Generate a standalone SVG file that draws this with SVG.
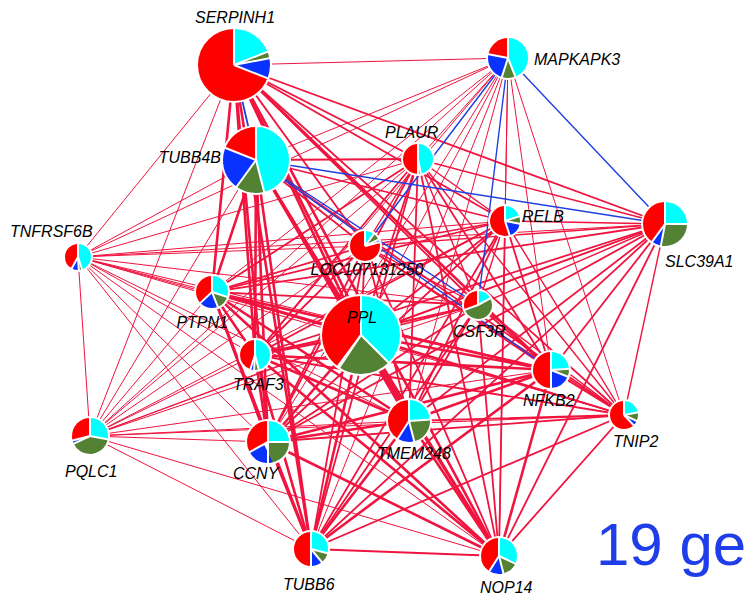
<svg xmlns="http://www.w3.org/2000/svg" width="750" height="606" viewBox="0 0 750 606">
<style>
.e line{stroke:#f0143f;stroke-linecap:round}
.e line.bl{stroke:#1f3fe0}
.w3{stroke-width:2.6}.w2{stroke-width:1.8}.w15{stroke-width:1.4}.w1{stroke-width:1}
.bg{fill:#fff}
.s{fill:none}
.c{stroke:#00ffff}.g{stroke:#548235}.b{stroke:#0a32ff}.r{stroke:#ff0000}
.sep{stroke:#fff;stroke-width:2}
.lb{font-family:"Liberation Sans",Arial,sans-serif;font-style:italic;font-size:16px;fill:#000}
.big{font-family:"Liberation Sans",Arial,sans-serif;font-size:60px;fill:#1f3de8}
</style>
<rect width="750" height="606" fill="#fff"/>
<g id="connectors" class="e">
<line x1="234" y1="65" x2="508" y2="58" class="w1"/>
<line x1="234" y1="65" x2="418" y2="159" class="w2"/>
<line x1="234" y1="65" x2="505" y2="221" class="w2"/>
<line x1="234" y1="65" x2="665" y2="224" class="w2"/>
<line x1="234" y1="65" x2="78" y2="257" class="w1"/>
<line x1="234" y1="65" x2="365" y2="246" class="w2"/>
<line x1="234" y1="65" x2="212" y2="292" class="w3"/>
<line x1="234" y1="65" x2="255" y2="355" class="w3"/>
<line x1="234" y1="65" x2="361" y2="335" class="w3"/>
<line x1="234" y1="65" x2="478" y2="305" class="w2"/>
<line x1="234" y1="65" x2="551" y2="370" class="w3"/>
<line x1="234" y1="65" x2="624" y2="415" class="w2"/>
<line x1="234" y1="65" x2="90" y2="436" class="w1"/>
<line x1="234" y1="65" x2="268" y2="442" class="w3"/>
<line x1="234" y1="65" x2="409" y2="421" class="w3"/>
<line x1="234" y1="65" x2="311" y2="549" class="w3"/>
<line x1="234" y1="65" x2="499" y2="556" class="w3"/>
<line x1="508" y1="58" x2="256" y2="160" class="w1"/>
<line x1="508" y1="58" x2="418" y2="159" class="w1"/>
<line x1="508" y1="58" x2="505" y2="221" class="w1"/>
<line x1="508" y1="58" x2="78" y2="257" class="w1"/>
<line x1="508" y1="58" x2="212" y2="292" class="w1"/>
<line x1="508" y1="58" x2="255" y2="355" class="w1"/>
<line x1="508" y1="58" x2="361" y2="335" class="w1"/>
<line x1="508" y1="58" x2="551" y2="370" class="w1"/>
<line x1="508" y1="58" x2="624" y2="415" class="w1"/>
<line x1="508" y1="58" x2="90" y2="436" class="w1"/>
<line x1="508" y1="58" x2="268" y2="442" class="w1"/>
<line x1="508" y1="58" x2="409" y2="421" class="w1"/>
<line x1="508" y1="58" x2="311" y2="549" class="w1"/>
<line x1="508" y1="58" x2="499" y2="556" class="w1"/>
<line x1="256" y1="160" x2="418" y2="159" class="w2"/>
<line x1="256" y1="160" x2="505" y2="221" class="w2"/>
<line x1="256" y1="160" x2="78" y2="257" class="w1"/>
<line x1="256" y1="160" x2="365" y2="246" class="w2"/>
<line x1="256" y1="160" x2="212" y2="292" class="w3"/>
<line x1="256" y1="160" x2="255" y2="355" class="w3"/>
<line x1="256" y1="160" x2="361" y2="335" class="w3"/>
<line x1="256" y1="160" x2="624" y2="415" class="w2"/>
<line x1="256" y1="160" x2="90" y2="436" class="w1"/>
<line x1="256" y1="160" x2="268" y2="442" class="w3"/>
<line x1="256" y1="160" x2="409" y2="421" class="w3"/>
<line x1="256" y1="160" x2="311" y2="549" class="w3"/>
<line x1="256" y1="160" x2="499" y2="556" class="w3"/>
<line x1="418" y1="159" x2="505" y2="221" class="w15"/>
<line x1="418" y1="159" x2="665" y2="224" class="w15"/>
<line x1="418" y1="159" x2="78" y2="257" class="w1"/>
<line x1="418" y1="159" x2="365" y2="246" class="w15"/>
<line x1="418" y1="159" x2="212" y2="292" class="w2"/>
<line x1="418" y1="159" x2="255" y2="355" class="w2"/>
<line x1="418" y1="159" x2="361" y2="335" class="w2"/>
<line x1="418" y1="159" x2="478" y2="305" class="w15"/>
<line x1="418" y1="159" x2="551" y2="370" class="w2"/>
<line x1="418" y1="159" x2="624" y2="415" class="w15"/>
<line x1="418" y1="159" x2="90" y2="436" class="w1"/>
<line x1="418" y1="159" x2="268" y2="442" class="w2"/>
<line x1="418" y1="159" x2="409" y2="421" class="w2"/>
<line x1="418" y1="159" x2="311" y2="549" class="w2"/>
<line x1="418" y1="159" x2="499" y2="556" class="w2"/>
<line x1="505" y1="221" x2="665" y2="224" class="w15"/>
<line x1="505" y1="221" x2="78" y2="257" class="w1"/>
<line x1="505" y1="221" x2="365" y2="246" class="w15"/>
<line x1="505" y1="221" x2="212" y2="292" class="w2"/>
<line x1="505" y1="221" x2="255" y2="355" class="w2"/>
<line x1="505" y1="221" x2="361" y2="335" class="w2"/>
<line x1="505" y1="221" x2="478" y2="305" class="w15"/>
<line x1="505" y1="221" x2="551" y2="370" class="w2"/>
<line x1="505" y1="221" x2="624" y2="415" class="w15"/>
<line x1="505" y1="221" x2="90" y2="436" class="w1"/>
<line x1="505" y1="221" x2="268" y2="442" class="w2"/>
<line x1="505" y1="221" x2="409" y2="421" class="w2"/>
<line x1="505" y1="221" x2="311" y2="549" class="w2"/>
<line x1="505" y1="221" x2="499" y2="556" class="w2"/>
<line x1="665" y1="224" x2="78" y2="257" class="w1"/>
<line x1="665" y1="224" x2="365" y2="246" class="w15"/>
<line x1="665" y1="224" x2="212" y2="292" class="w2"/>
<line x1="665" y1="224" x2="255" y2="355" class="w2"/>
<line x1="665" y1="224" x2="361" y2="335" class="w2"/>
<line x1="665" y1="224" x2="478" y2="305" class="w15"/>
<line x1="665" y1="224" x2="551" y2="370" class="w2"/>
<line x1="665" y1="224" x2="624" y2="415" class="w15"/>
<line x1="665" y1="224" x2="90" y2="436" class="w1"/>
<line x1="665" y1="224" x2="268" y2="442" class="w2"/>
<line x1="665" y1="224" x2="409" y2="421" class="w2"/>
<line x1="665" y1="224" x2="311" y2="549" class="w2"/>
<line x1="665" y1="224" x2="499" y2="556" class="w2"/>
<line x1="78" y1="257" x2="365" y2="246" class="w1"/>
<line x1="78" y1="257" x2="212" y2="292" class="w1"/>
<line x1="78" y1="257" x2="255" y2="355" class="w1"/>
<line x1="78" y1="257" x2="361" y2="335" class="w1"/>
<line x1="78" y1="257" x2="478" y2="305" class="w1"/>
<line x1="78" y1="257" x2="551" y2="370" class="w1"/>
<line x1="78" y1="257" x2="624" y2="415" class="w1"/>
<line x1="78" y1="257" x2="90" y2="436" class="w1"/>
<line x1="78" y1="257" x2="268" y2="442" class="w1"/>
<line x1="78" y1="257" x2="409" y2="421" class="w1"/>
<line x1="78" y1="257" x2="311" y2="549" class="w1"/>
<line x1="78" y1="257" x2="499" y2="556" class="w1"/>
<line x1="365" y1="246" x2="212" y2="292" class="w2"/>
<line x1="365" y1="246" x2="255" y2="355" class="w2"/>
<line x1="365" y1="246" x2="361" y2="335" class="w2"/>
<line x1="365" y1="246" x2="478" y2="305" class="w15"/>
<line x1="365" y1="246" x2="551" y2="370" class="w2"/>
<line x1="365" y1="246" x2="624" y2="415" class="w15"/>
<line x1="365" y1="246" x2="90" y2="436" class="w1"/>
<line x1="365" y1="246" x2="268" y2="442" class="w2"/>
<line x1="365" y1="246" x2="409" y2="421" class="w2"/>
<line x1="365" y1="246" x2="311" y2="549" class="w2"/>
<line x1="365" y1="246" x2="499" y2="556" class="w2"/>
<line x1="212" y1="292" x2="255" y2="355" class="w3"/>
<line x1="212" y1="292" x2="361" y2="335" class="w3"/>
<line x1="212" y1="292" x2="478" y2="305" class="w2"/>
<line x1="212" y1="292" x2="551" y2="370" class="w3"/>
<line x1="212" y1="292" x2="624" y2="415" class="w2"/>
<line x1="212" y1="292" x2="90" y2="436" class="w1"/>
<line x1="212" y1="292" x2="268" y2="442" class="w3"/>
<line x1="212" y1="292" x2="409" y2="421" class="w3"/>
<line x1="212" y1="292" x2="311" y2="549" class="w3"/>
<line x1="212" y1="292" x2="499" y2="556" class="w3"/>
<line x1="255" y1="355" x2="361" y2="335" class="w3"/>
<line x1="255" y1="355" x2="478" y2="305" class="w2"/>
<line x1="255" y1="355" x2="551" y2="370" class="w3"/>
<line x1="255" y1="355" x2="624" y2="415" class="w2"/>
<line x1="255" y1="355" x2="90" y2="436" class="w1"/>
<line x1="255" y1="355" x2="268" y2="442" class="w3"/>
<line x1="255" y1="355" x2="409" y2="421" class="w3"/>
<line x1="255" y1="355" x2="311" y2="549" class="w3"/>
<line x1="255" y1="355" x2="499" y2="556" class="w3"/>
<line x1="361" y1="335" x2="478" y2="305" class="w2"/>
<line x1="361" y1="335" x2="551" y2="370" class="w3"/>
<line x1="361" y1="335" x2="624" y2="415" class="w2"/>
<line x1="361" y1="335" x2="90" y2="436" class="w1"/>
<line x1="361" y1="335" x2="268" y2="442" class="w3"/>
<line x1="361" y1="335" x2="409" y2="421" class="w3"/>
<line x1="361" y1="335" x2="311" y2="549" class="w3"/>
<line x1="361" y1="335" x2="499" y2="556" class="w3"/>
<line x1="478" y1="305" x2="551" y2="370" class="w2"/>
<line x1="478" y1="305" x2="624" y2="415" class="w15"/>
<line x1="478" y1="305" x2="90" y2="436" class="w1"/>
<line x1="478" y1="305" x2="268" y2="442" class="w2"/>
<line x1="478" y1="305" x2="409" y2="421" class="w2"/>
<line x1="478" y1="305" x2="311" y2="549" class="w2"/>
<line x1="478" y1="305" x2="499" y2="556" class="w2"/>
<line x1="551" y1="370" x2="624" y2="415" class="w2"/>
<line x1="551" y1="370" x2="90" y2="436" class="w1"/>
<line x1="551" y1="370" x2="268" y2="442" class="w3"/>
<line x1="551" y1="370" x2="409" y2="421" class="w3"/>
<line x1="551" y1="370" x2="311" y2="549" class="w3"/>
<line x1="551" y1="370" x2="499" y2="556" class="w3"/>
<line x1="624" y1="415" x2="90" y2="436" class="w1"/>
<line x1="624" y1="415" x2="268" y2="442" class="w2"/>
<line x1="624" y1="415" x2="409" y2="421" class="w2"/>
<line x1="624" y1="415" x2="311" y2="549" class="w2"/>
<line x1="624" y1="415" x2="499" y2="556" class="w2"/>
<line x1="90" y1="436" x2="268" y2="442" class="w1"/>
<line x1="90" y1="436" x2="409" y2="421" class="w1"/>
<line x1="90" y1="436" x2="311" y2="549" class="w1"/>
<line x1="90" y1="436" x2="499" y2="556" class="w1"/>
<line x1="268" y1="442" x2="409" y2="421" class="w3"/>
<line x1="268" y1="442" x2="311" y2="549" class="w3"/>
<line x1="268" y1="442" x2="499" y2="556" class="w3"/>
<line x1="409" y1="421" x2="311" y2="549" class="w3"/>
<line x1="409" y1="421" x2="499" y2="556" class="w3"/>
<line x1="311" y1="549" x2="499" y2="556" class="w2"/>
<line x1="234" y1="65" x2="256" y2="160" class="w2 bl"/>
<line x1="508" y1="58" x2="665" y2="224" class="w15 bl"/>
<line x1="508" y1="58" x2="365" y2="246" class="w15 bl"/>
<line x1="508" y1="58" x2="478" y2="305" class="w15 bl"/>
<line x1="256" y1="160" x2="665" y2="224" class="w15 bl"/>
<line x1="256" y1="160" x2="478" y2="305" class="w15 bl"/>
<line x1="256" y1="160" x2="551" y2="370" class="w15 bl"/>
</g>
<g id="n-serpinh1" transform="translate(234,65)">
<circle r="38" class="bg"/>
<g transform="rotate(-90)">
<circle r="18" stroke-width="36" pathLength="100" class="s c" stroke-dasharray="19 100"/>
<circle r="18" stroke-width="36" pathLength="100" class="s g" stroke-dasharray="3 100" stroke-dashoffset="-19"/>
<circle r="18" stroke-width="36" pathLength="100" class="s b" stroke-dasharray="9 100" stroke-dashoffset="-22"/>
<circle r="18" stroke-width="36" pathLength="100" class="s r" stroke-dasharray="69 100" stroke-dashoffset="-31"/>
<path class="sep" d="M0 0H37"/><path class="sep" d="M0 0H37" transform="rotate(68.4)"/><path class="sep" d="M0 0H37" transform="rotate(79.2)"/><path class="sep" d="M0 0H37" transform="rotate(111.6)"/>
</g>
<text class="lb" x="-39" y="-42">SERPINH1</text>
</g>
<g id="n-mapkapk3" transform="translate(508,58)">
<circle r="22" class="bg"/>
<g transform="rotate(-90)">
<circle r="10" stroke-width="20" pathLength="100" class="s c" stroke-dasharray="44 100"/>
<circle r="10" stroke-width="20" pathLength="100" class="s g" stroke-dasharray="11 100" stroke-dashoffset="-44"/>
<circle r="10" stroke-width="20" pathLength="100" class="s b" stroke-dasharray="23 100" stroke-dashoffset="-55"/>
<circle r="10" stroke-width="20" pathLength="100" class="s r" stroke-dasharray="22 100" stroke-dashoffset="-78"/>
<path class="sep" d="M0 0H21"/><path class="sep" d="M0 0H21" transform="rotate(158.4)"/><path class="sep" d="M0 0H21" transform="rotate(198)"/><path class="sep" d="M0 0H21" transform="rotate(280.8)"/>
</g>
<text class="lb" x="26" y="7">MAPKAPK3</text>
</g>
<g id="n-tubb4b" transform="translate(256,160)">
<circle r="35" class="bg"/>
<g transform="rotate(-90)">
<circle r="16.5" stroke-width="33" pathLength="100" class="s c" stroke-dasharray="46 100"/>
<circle r="16.5" stroke-width="33" pathLength="100" class="s g" stroke-dasharray="14 100" stroke-dashoffset="-46"/>
<circle r="16.5" stroke-width="33" pathLength="100" class="s b" stroke-dasharray="21 100" stroke-dashoffset="-60"/>
<circle r="16.5" stroke-width="33" pathLength="100" class="s r" stroke-dasharray="19 100" stroke-dashoffset="-81"/>
<path class="sep" d="M0 0H34"/><path class="sep" d="M0 0H34" transform="rotate(165.6)"/><path class="sep" d="M0 0H34" transform="rotate(216)"/><path class="sep" d="M0 0H34" transform="rotate(291.6)"/>
</g>
<text class="lb" x="-35" y="3" text-anchor="end">TUBB4B</text>
</g>
<g id="n-plaur" transform="translate(418,159)">
<circle r="17" class="bg"/>
<g transform="rotate(-90)">
<circle r="7.5" stroke-width="15" pathLength="100" class="s c" stroke-dasharray="47 100"/>
<circle r="7.5" stroke-width="15" pathLength="100" class="s g" stroke-dasharray="2 100" stroke-dashoffset="-47"/>
<circle r="7.5" stroke-width="15" pathLength="100" class="s b" stroke-dasharray="1 100" stroke-dashoffset="-49"/>
<circle r="7.5" stroke-width="15" pathLength="100" class="s r" stroke-dasharray="50 100" stroke-dashoffset="-50"/>
<path class="sep" d="M0 0H16"/><path class="sep" d="M0 0H16" transform="rotate(169.2)"/><path class="sep" d="M0 0H16" transform="rotate(180)"/>
</g>
<text class="lb" x="-33" y="-21">PLAUR</text>
</g>
<g id="n-relb" transform="translate(505,221)">
<circle r="17" class="bg"/>
<g transform="rotate(-90)">
<circle r="7.5" stroke-width="15" pathLength="100" class="s c" stroke-dasharray="20 100"/>
<circle r="7.5" stroke-width="15" pathLength="100" class="s g" stroke-dasharray="8 100" stroke-dashoffset="-20"/>
<circle r="7.5" stroke-width="15" pathLength="100" class="s b" stroke-dasharray="17 100" stroke-dashoffset="-28"/>
<circle r="7.5" stroke-width="15" pathLength="100" class="s r" stroke-dasharray="55 100" stroke-dashoffset="-45"/>
<path class="sep" d="M0 0H16"/><path class="sep" d="M0 0H16" transform="rotate(72)"/><path class="sep" d="M0 0H16" transform="rotate(100.8)"/><path class="sep" d="M0 0H16" transform="rotate(162)"/>
</g>
<text class="lb" x="17" y="1">RELB</text>
</g>
<g id="n-slc39a1" transform="translate(665,224)">
<circle r="24" class="bg"/>
<g transform="rotate(-90)">
<circle r="11" stroke-width="22" pathLength="100" class="s c" stroke-dasharray="25 100"/>
<circle r="11" stroke-width="22" pathLength="100" class="s g" stroke-dasharray="28 100" stroke-dashoffset="-25"/>
<circle r="11" stroke-width="22" pathLength="100" class="s b" stroke-dasharray="7 100" stroke-dashoffset="-53"/>
<circle r="11" stroke-width="22" pathLength="100" class="s r" stroke-dasharray="40 100" stroke-dashoffset="-60"/>
<path class="sep" d="M0 0H23"/><path class="sep" d="M0 0H23" transform="rotate(90)"/><path class="sep" d="M0 0H23" transform="rotate(190.8)"/><path class="sep" d="M0 0H23" transform="rotate(216)"/>
</g>
<text class="lb" x="0" y="43">SLC39A1</text>
</g>
<g id="n-tnfrsf6b" transform="translate(78,257)">
<circle r="15" class="bg"/>
<g transform="rotate(-90)">
<circle r="6.5" stroke-width="13" pathLength="100" class="s c" stroke-dasharray="45 100"/>
<circle r="6.5" stroke-width="13" pathLength="100" class="s g" stroke-dasharray="4 100" stroke-dashoffset="-45"/>
<circle r="6.5" stroke-width="13" pathLength="100" class="s b" stroke-dasharray="9 100" stroke-dashoffset="-49"/>
<circle r="6.5" stroke-width="13" pathLength="100" class="s r" stroke-dasharray="42 100" stroke-dashoffset="-58"/>
<path class="sep" d="M0 0H14"/><path class="sep" d="M0 0H14" transform="rotate(162)"/><path class="sep" d="M0 0H14" transform="rotate(176.4)"/><path class="sep" d="M0 0H14" transform="rotate(208.8)"/>
</g>
<text class="lb" x="-68" y="-20">TNFRSF6B</text>
</g>
<g id="n-loc107131250" transform="translate(365,246)">
<circle r="17" class="bg"/>
<g transform="rotate(-90)">
<circle r="7.5" stroke-width="15" pathLength="100" class="s c" stroke-dasharray="10 100"/>
<circle r="7.5" stroke-width="15" pathLength="100" class="s g" stroke-dasharray="8 100" stroke-dashoffset="-10"/>
<circle r="7.5" stroke-width="15" pathLength="100" class="s b" stroke-dasharray="3 100" stroke-dashoffset="-18"/>
<circle r="7.5" stroke-width="15" pathLength="100" class="s r" stroke-dasharray="79 100" stroke-dashoffset="-21"/>
<path class="sep" d="M0 0H16"/><path class="sep" d="M0 0H16" transform="rotate(36)"/><path class="sep" d="M0 0H16" transform="rotate(64.8)"/><path class="sep" d="M0 0H16" transform="rotate(75.6)"/>
</g>
<text class="lb" x="2" y="29" text-anchor="middle">LOC107131250</text>
</g>
<g id="n-ptpn1" transform="translate(212,292)">
<circle r="18" class="bg"/>
<g transform="rotate(-90)">
<circle r="8" stroke-width="16" pathLength="100" class="s c" stroke-dasharray="30 100"/>
<circle r="8" stroke-width="16" pathLength="100" class="s g" stroke-dasharray="14 100" stroke-dashoffset="-30"/>
<circle r="8" stroke-width="16" pathLength="100" class="s b" stroke-dasharray="19 100" stroke-dashoffset="-44"/>
<circle r="8" stroke-width="16" pathLength="100" class="s r" stroke-dasharray="37 100" stroke-dashoffset="-63"/>
<path class="sep" d="M0 0H17"/><path class="sep" d="M0 0H17" transform="rotate(108)"/><path class="sep" d="M0 0H17" transform="rotate(158.4)"/><path class="sep" d="M0 0H17" transform="rotate(226.8)"/>
</g>
<text class="lb" x="16" y="36" text-anchor="end">PTPN1</text>
</g>
<g id="n-traf3" transform="translate(255,355)">
<circle r="17" class="bg"/>
<g transform="rotate(-90)">
<circle r="7.5" stroke-width="15" pathLength="100" class="s c" stroke-dasharray="46 100"/>
<circle r="7.5" stroke-width="15" pathLength="100" class="s g" stroke-dasharray="5 100" stroke-dashoffset="-46"/>
<circle r="7.5" stroke-width="15" pathLength="100" class="s b" stroke-dasharray="4 100" stroke-dashoffset="-51"/>
<circle r="7.5" stroke-width="15" pathLength="100" class="s r" stroke-dasharray="45 100" stroke-dashoffset="-55"/>
<path class="sep" d="M0 0H16"/><path class="sep" d="M0 0H16" transform="rotate(165.6)"/><path class="sep" d="M0 0H16" transform="rotate(183.6)"/><path class="sep" d="M0 0H16" transform="rotate(198)"/>
</g>
<text class="lb" x="-22" y="35">TRAF3</text>
</g>
<g id="n-ppl" transform="translate(361,335)">
<circle r="41" class="bg"/>
<g transform="rotate(-90)">
<circle r="19.5" stroke-width="39" pathLength="100" class="s c" stroke-dasharray="37.5 100"/>
<circle r="19.5" stroke-width="39" pathLength="100" class="s g" stroke-dasharray="22 100" stroke-dashoffset="-37.5"/>
<circle r="19.5" stroke-width="39" pathLength="100" class="s b" stroke-dasharray="0.6 100" stroke-dashoffset="-59.5"/>
<circle r="19.5" stroke-width="39" pathLength="100" class="s r" stroke-dasharray="40 100" stroke-dashoffset="-60"/>
<path class="sep" d="M0 0H40"/><path class="sep" d="M0 0H40" transform="rotate(135)"/><path class="sep" d="M0 0H40" transform="rotate(213.6)"/><path class="sep" d="M0 0H40" transform="rotate(216.5)"/>
</g>
<text class="lb" x="-14" y="-12">PPL</text>
</g>
<g id="n-csf3r" transform="translate(478,305)">
<circle r="16" class="bg"/>
<g transform="rotate(-90)">
<circle r="7" stroke-width="14" pathLength="100" class="s c" stroke-dasharray="17 100"/>
<circle r="7" stroke-width="14" pathLength="100" class="s g" stroke-dasharray="52 100" stroke-dashoffset="-17"/>
<circle r="7" stroke-width="14" pathLength="100" class="s b" stroke-dasharray="1 100" stroke-dashoffset="-69"/>
<circle r="7" stroke-width="14" pathLength="100" class="s r" stroke-dasharray="30 100" stroke-dashoffset="-70"/>
<path class="sep" d="M0 0H15"/><path class="sep" d="M0 0H15" transform="rotate(61.2)"/><path class="sep" d="M0 0H15" transform="rotate(250)"/>
</g>
<text class="lb" x="-25" y="32">CSF3R</text>
</g>
<g id="n-nfkb2" transform="translate(551,370)">
<circle r="20" class="bg"/>
<g transform="rotate(-90)">
<circle r="9" stroke-width="18" pathLength="100" class="s c" stroke-dasharray="24 100"/>
<circle r="9" stroke-width="18" pathLength="100" class="s g" stroke-dasharray="7 100" stroke-dashoffset="-24"/>
<circle r="9" stroke-width="18" pathLength="100" class="s b" stroke-dasharray="19 100" stroke-dashoffset="-31"/>
<circle r="9" stroke-width="18" pathLength="100" class="s r" stroke-dasharray="50 100" stroke-dashoffset="-50"/>
<path class="sep" d="M0 0H19"/><path class="sep" d="M0 0H19" transform="rotate(86.4)"/><path class="sep" d="M0 0H19" transform="rotate(111.6)"/><path class="sep" d="M0 0H19" transform="rotate(180)"/>
</g>
<text class="lb" x="-28" y="36">NFKB2</text>
</g>
<g id="n-tnip2" transform="translate(624,415)">
<circle r="16" class="bg"/>
<g transform="rotate(-90)">
<circle r="7" stroke-width="14" pathLength="100" class="s c" stroke-dasharray="22 100"/>
<circle r="7" stroke-width="14" pathLength="100" class="s g" stroke-dasharray="10 100" stroke-dashoffset="-22"/>
<circle r="7" stroke-width="14" pathLength="100" class="s b" stroke-dasharray="6 100" stroke-dashoffset="-32"/>
<circle r="7" stroke-width="14" pathLength="100" class="s r" stroke-dasharray="62 100" stroke-dashoffset="-38"/>
<path class="sep" d="M0 0H15"/><path class="sep" d="M0 0H15" transform="rotate(79.2)"/><path class="sep" d="M0 0H15" transform="rotate(115.2)"/><path class="sep" d="M0 0H15" transform="rotate(136.8)"/>
</g>
<text class="lb" x="-11" y="32">TNIP2</text>
</g>
<g id="n-pqlc1" transform="translate(90,436)">
<circle r="20" class="bg"/>
<g transform="rotate(-90)">
<circle r="9" stroke-width="18" pathLength="100" class="s c" stroke-dasharray="28 100"/>
<circle r="9" stroke-width="18" pathLength="100" class="s g" stroke-dasharray="40 100" stroke-dashoffset="-28"/>
<circle r="9" stroke-width="18" pathLength="100" class="s b" stroke-dasharray="3 100" stroke-dashoffset="-68"/>
<circle r="9" stroke-width="18" pathLength="100" class="s r" stroke-dasharray="29 100" stroke-dashoffset="-71"/>
<path class="sep" d="M0 0H19"/><path class="sep" d="M0 0H19" transform="rotate(100.8)"/><path class="sep" d="M0 0H19" transform="rotate(244.8)"/><path class="sep" d="M0 0H19" transform="rotate(255.6)"/>
</g>
<text class="lb" x="-25" y="41">PQLC1</text>
</g>
<g id="n-ccny" transform="translate(268,442)">
<circle r="23" class="bg"/>
<g transform="rotate(-90)">
<circle r="10.5" stroke-width="21" pathLength="100" class="s c" stroke-dasharray="25 100"/>
<circle r="10.5" stroke-width="21" pathLength="100" class="s g" stroke-dasharray="25 100" stroke-dashoffset="-25"/>
<circle r="10.5" stroke-width="21" pathLength="100" class="s b" stroke-dasharray="17 100" stroke-dashoffset="-50"/>
<circle r="10.5" stroke-width="21" pathLength="100" class="s r" stroke-dasharray="33 100" stroke-dashoffset="-67"/>
<path class="sep" d="M0 0H22"/><path class="sep" d="M0 0H22" transform="rotate(90)"/><path class="sep" d="M0 0H22" transform="rotate(180)"/><path class="sep" d="M0 0H22" transform="rotate(241.2)"/>
</g>
<text class="lb" x="-35" y="37">CCNY</text>
</g>
<g id="n-tmem248" transform="translate(409,421)">
<circle r="23" class="bg"/>
<g transform="rotate(-90)">
<circle r="10.5" stroke-width="21" pathLength="100" class="s c" stroke-dasharray="24 100"/>
<circle r="10.5" stroke-width="21" pathLength="100" class="s g" stroke-dasharray="22 100" stroke-dashoffset="-24"/>
<circle r="10.5" stroke-width="21" pathLength="100" class="s b" stroke-dasharray="13 100" stroke-dashoffset="-46"/>
<circle r="10.5" stroke-width="21" pathLength="100" class="s r" stroke-dasharray="41 100" stroke-dashoffset="-59"/>
<path class="sep" d="M0 0H22"/><path class="sep" d="M0 0H22" transform="rotate(86.4)"/><path class="sep" d="M0 0H22" transform="rotate(165.6)"/><path class="sep" d="M0 0H22" transform="rotate(212.4)"/>
</g>
<text class="lb" x="-32" y="38">TMEM248</text>
</g>
<g id="n-tubb6" transform="translate(311,549)">
<circle r="19" class="bg"/>
<g transform="rotate(-90)">
<circle r="8.5" stroke-width="17" pathLength="100" class="s c" stroke-dasharray="29 100"/>
<circle r="8.5" stroke-width="17" pathLength="100" class="s g" stroke-dasharray="10 100" stroke-dashoffset="-29"/>
<circle r="8.5" stroke-width="17" pathLength="100" class="s b" stroke-dasharray="11 100" stroke-dashoffset="-39"/>
<circle r="8.5" stroke-width="17" pathLength="100" class="s r" stroke-dasharray="50 100" stroke-dashoffset="-50"/>
<path class="sep" d="M0 0H18"/><path class="sep" d="M0 0H18" transform="rotate(104.4)"/><path class="sep" d="M0 0H18" transform="rotate(140.4)"/><path class="sep" d="M0 0H18" transform="rotate(180)"/>
</g>
<text class="lb" x="-28" y="41">TUBB6</text>
</g>
<g id="n-nop14" transform="translate(499,556)">
<circle r="20" class="bg"/>
<g transform="rotate(-90)">
<circle r="9" stroke-width="18" pathLength="100" class="s c" stroke-dasharray="32 100"/>
<circle r="9" stroke-width="18" pathLength="100" class="s g" stroke-dasharray="14 100" stroke-dashoffset="-32"/>
<circle r="9" stroke-width="18" pathLength="100" class="s b" stroke-dasharray="13 100" stroke-dashoffset="-46"/>
<circle r="9" stroke-width="18" pathLength="100" class="s r" stroke-dasharray="41 100" stroke-dashoffset="-59"/>
<path class="sep" d="M0 0H19"/><path class="sep" d="M0 0H19" transform="rotate(115.2)"/><path class="sep" d="M0 0H19" transform="rotate(165.6)"/><path class="sep" d="M0 0H19" transform="rotate(212.4)"/>
</g>
<text class="lb" x="-19" y="37">NOP14</text>
</g>
<text class="big" x="596" y="565">19 ge</text>
</svg>
